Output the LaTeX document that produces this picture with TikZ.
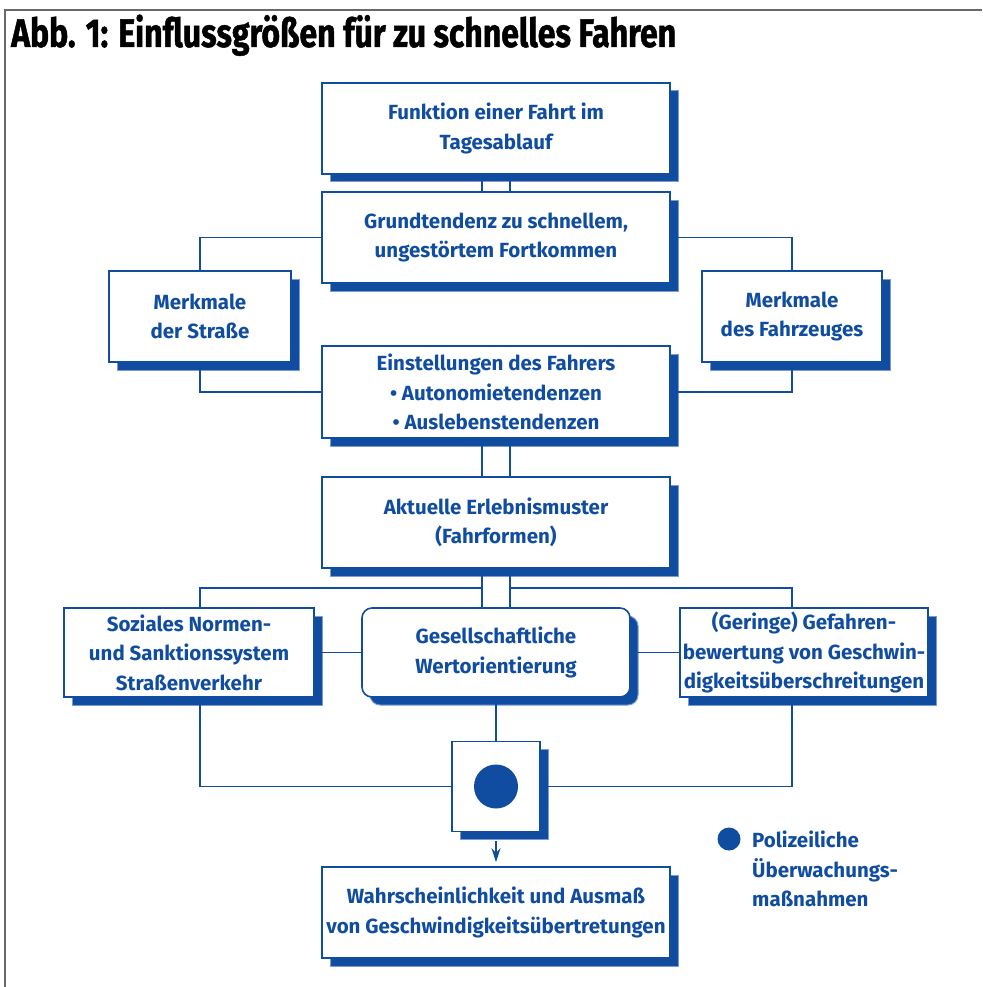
\documentclass[tikz,border=0pt]{standalone}
\usepackage{fontspec}
\setmainfont{Fira Sans}
\newfontfamily\titlefont{Fira Sans}[FakeStretch=0.80, FakeBold=1.2]
\usepackage{tikz}
\usetikzlibrary{arrows.meta,positioning,shadows,calc}
\definecolor{vblue}{RGB}{16,77,160}
\definecolor{framegray}{RGB}{105,105,105}

\begin{document}
\begin{tikzpicture}[x=1pt, y=-1pt,
    box/.style={rectangle, draw=vblue, line width=1.6pt, fill=white, text=vblue, font=\bfseries\fontsize{20.5}{29.5}\selectfont, align=center, minimum width=348pt, minimum height=91pt, inner sep=0pt, drop shadow={shadow xshift=8pt, shadow yshift=-8pt, fill=vblue, draw=vblue!55, line width=1pt, opacity=1}},
    conn/.style={draw=vblue, line width=1.6pt},
    arr/.style={conn, -{Stealth[length=14pt, width=9pt]}}
]
\useasboundingbox (0,0) rectangle (982,987);
\draw[framegray, line width=2pt] (982,10) -- (5,10) -- (5,987);
\node[anchor=base west, inner sep=0pt, font=\titlefont\bfseries\fontsize{40}{40}\selectfont] (titel) at (11,47) {Abb. 1: Einflussgrößen für zu schnelles Fahren};

\node[box] (funktion) at (496,128.5) {Funktion einer Fahrt im\\Tagesablauf};
\node[box] (grund) at (496,237.5) {Grundtendenz zu schnellem,\\ungestörtem Fortkommen};
\node[box, minimum width=182pt] (strasse) at (200,316.5) {Merkmale\\der Straße};
\node[box, minimum width=180pt] (fahrzeug) at (792,316.5) {Merkmale\\des Fahrzeuges};
\node[box, minimum height=92pt] (einst) at (496,392) {Einstellungen des Fahrers\\\textbullet\ Autonomietendenzen\\\textbullet\ Auslebenstendenzen};
\node[box] (aktuell) at (496,522.5) {Aktuelle Erlebnismuster\\(Fahrformen)};
\node[box, minimum width=250pt, minimum height=89pt] (soziales) at (189,652.5) {Soziales Normen-\\und Sanktionssystem\\Straßenverkehr};
\node[box, rounded corners=10pt, minimum width=268pt, minimum height=89pt] (gesell) at (496,652.5) {Gesellschaftliche\\Wertorientierung};
\node[box, minimum width=248pt, minimum height=89pt] (geringe) at (804,652.5) {(Geringe) Gefahren-\\bewertung von Geschwin-\\digkeitsüberschreitungen};
\node[box, minimum width=88pt, minimum height=90pt] (kontrolle) at (496,786.5) {};
\node[circle, fill=vblue, minimum size=44pt, inner sep=0pt] (punkt) at (kontrolle.center) {};
\node[box] (wahr) at (496,912.5) {Wahrscheinlichkeit und Ausmaß\\von Geschwindigkeitsübertretungen};

\node[circle, fill=vblue, minimum size=23pt, inner sep=0pt] (legpunkt) at (729,839) {};
\node[anchor=north west, align=left, inner sep=0pt, text=vblue, font=\bfseries\fontsize{20.5}{29.5}\selectfont] (legende) at (752,831) {Polizeiliche\\Überwachungs-\\maßnahmen};

\draw[conn] ($(funktion.south)+(-14,0)$) -- ($(grund.north)+(-14,0)$);
\draw[conn] ($(funktion.south)+(14,0)$) -- ($(grund.north)+(14,0)$);
\draw[conn] (grund.west) -| (strasse.north);
\draw[conn] (grund.east) -| (fahrzeug.north);
\draw[conn] (strasse.south) |- (einst.west);
\draw[conn] (fahrzeug.south) |- (einst.east);
\draw[conn] ($(einst.south)+(-14,0)$) -- ($(aktuell.north)+(-14,0)$);
\draw[conn] ($(einst.south)+(14,0)$) -- ($(aktuell.north)+(14,0)$);
\draw[conn] ($(aktuell.south)+(-14,0)$) -- ($(gesell.north)+(-14,0)$);
\draw[conn] ($(aktuell.south)+(14,0)$) -- ($(gesell.north)+(14,0)$);
\draw[conn] ($(soziales.north)+(11,0)$) |- ($(aktuell.south)+(-14,19)$);
\draw[conn] ($(geringe.north)+(-12,0)$) |- ($(aktuell.south)+(14,19)$);
\draw[conn] (soziales.east) -- (gesell.west);
\draw[conn] (gesell.east) -- (geringe.west);
\draw[conn] (gesell.south) -- (kontrolle.north);
\draw[conn] ($(soziales.south)+(11,0)$) |- (kontrolle.west);
\draw[conn] ($(geringe.south)+(-12,0)$) |- (kontrolle.east);
\draw[arr] ($(kontrolle.south)+(0,9)$) -- ($(wahr.north)+(0,-4)$);
\end{tikzpicture}
\end{document}
